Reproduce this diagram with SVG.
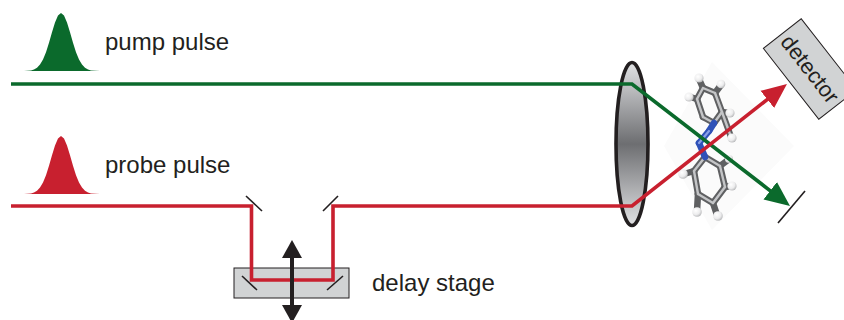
<svg xmlns="http://www.w3.org/2000/svg" width="844" height="320" viewBox="0 0 844 320">
  <style>
    .label { font-family: "Liberation Sans", Arial, Helvetica, sans-serif; font-size: 24px; fill: #231f20; }
    .pump { stroke: #0b6a2c; }
    .probe { stroke: #c8202f; }
    .beam { fill: none; stroke-width: 3.6; stroke-linejoin: miter; }
    .mirror { stroke: #231f20; stroke-width: 1.6; stroke-linecap: butt; }
    .bond { stroke: #5f6062; stroke-width: 6.5; stroke-linecap: round; }
    .bondhi { stroke: #c4c5c7; stroke-width: 2.4; stroke-linecap: round; }
    .nbond { stroke: #2f52b8; stroke-width: 6.5; stroke-linecap: round; }
    .nbondhi { stroke: #8aa0e6; stroke-width: 2.2; stroke-linecap: round; }
  </style>
  <defs>
    <path id="gauss" d="M24,71 L31,70.4 L34,69.5 L37,67.7 L40,64.6 L43,59.5 L46,52.2 L49,42.8 L52,32.3 L55,22.5 L58,15.6 L61,13 L64,15.6 L67,22.5 L70,32.3 L73,42.8 L76,52.2 L79,59.5 L82,64.6 L85,67.7 L88,69.5 L91,70.4 L100,71 Z"/>
    <linearGradient id="lensFill" x1="0" y1="0" x2="0" y2="1">
      <stop offset="0" stop-color="#e1e2e4"/>
      <stop offset="0.5" stop-color="#6d6e71"/>
      <stop offset="1" stop-color="#e1e2e4"/>
    </linearGradient>
    <radialGradient id="hAtom" cx="0.38" cy="0.35" r="0.7">
      <stop offset="0" stop-color="#ffffff"/>
      <stop offset="0.6" stop-color="#ececed"/>
      <stop offset="1" stop-color="#b3b4b6"/>
    </radialGradient>
    <marker id="headGreen" markerUnits="userSpaceOnUse" viewBox="0 -12 26 24" refX="1" refY="0" markerWidth="26" markerHeight="24" orient="auto">
      <path d="M0,-11 L25,0 L0,11 Z" fill="#0b6a2c"/>
    </marker>
    <marker id="headRed" markerUnits="userSpaceOnUse" viewBox="0 -12 26 24" refX="1" refY="0" markerWidth="26" markerHeight="24" orient="auto">
      <path d="M0,-11 L25,0 L0,11 Z" fill="#c8202f"/>
    </marker>
  </defs>

  <!-- pulse shapes and labels -->
  <g id="pump-pulse">
    <use href="#gauss" fill="#0b6a2c"/>
    <text class="label" x="105" y="50">pump pulse</text>
  </g>
  <g id="probe-pulse">
    <use href="#gauss" fill="#c8202f" transform="translate(0,123)"/>
    <text class="label" x="105" y="173">probe pulse</text>
  </g>

  <!-- delay stage -->
  <g id="delay-stage">
    <rect x="234" y="268" width="115" height="30" fill="#d1d3d4" stroke="#231f20" stroke-width="1"/>
    <text class="label" x="372" y="291">delay stage</text>
  </g>

  <!-- focusing lens -->
  <g id="lens">
    <ellipse cx="632" cy="144" rx="16" ry="81.5" fill="url(#lensFill)" stroke="#231f20" stroke-width="3.6"/>
  </g>

  <!-- sample: azobenzene molecule -->
  <g id="sample">
    <polygon points="712,62 794,146 712,230 664,146" fill="#fbfbfb"/>
    <g id="molecule">
      <!-- upper phenyl ring -->
      <g class="bond">
        <line x1="703" y1="88" x2="715" y2="93"/>
        <line x1="715" y1="93" x2="722" y2="112"/>
        <line x1="722" y1="112" x2="714" y2="123"/>
        <line x1="714" y1="123" x2="703" y2="117"/>
        <line x1="703" y1="117" x2="697" y2="99"/>
        <line x1="697" y1="99" x2="703" y2="88"/>
        <line x1="703" y1="88" x2="699" y2="79"/>
        <line x1="697" y1="99" x2="690" y2="97"/>
        <line x1="715" y1="93" x2="721" y2="85"/>
        <line x1="722" y1="112" x2="729" y2="113"/>
        <line x1="722" y1="112" x2="731" y2="137"/>
        <!-- lower phenyl ring -->
        <line x1="705" y1="157" x2="720" y2="166"/>
        <line x1="720" y1="166" x2="725" y2="187"/>
        <line x1="725" y1="187" x2="713" y2="203"/>
        <line x1="713" y1="203" x2="698" y2="194"/>
        <line x1="698" y1="194" x2="694" y2="171"/>
        <line x1="694" y1="171" x2="705" y2="157"/>
        <line x1="694" y1="171" x2="684" y2="174"/>
        <line x1="725" y1="187" x2="731" y2="186"/>
        <line x1="713" y1="203" x2="717" y2="215"/>
        <line x1="698" y1="194" x2="697" y2="211"/>
        <line x1="720" y1="166" x2="728" y2="160"/>
      </g>
      <g class="bondhi">
        <line x1="703" y1="88" x2="715" y2="93"/>
        <line x1="715" y1="93" x2="722" y2="112"/>
        <line x1="722" y1="112" x2="714" y2="123"/>
        <line x1="714" y1="123" x2="703" y2="117"/>
        <line x1="703" y1="117" x2="697" y2="99"/>
        <line x1="697" y1="99" x2="703" y2="88"/>
        <line x1="705" y1="157" x2="720" y2="166"/>
        <line x1="720" y1="166" x2="725" y2="187"/>
        <line x1="725" y1="187" x2="713" y2="203"/>
        <line x1="713" y1="203" x2="698" y2="194"/>
        <line x1="698" y1="194" x2="694" y2="171"/>
        <line x1="694" y1="171" x2="705" y2="157"/>
        <line x1="722" y1="112" x2="731" y2="137"/>
      </g>
      <!-- azo bridge -->
      <g class="nbond">
        <line x1="714" y1="123" x2="709" y2="131"/>
        <line x1="709" y1="131" x2="699" y2="143"/>
        <line x1="699" y1="143" x2="705" y2="157"/>
      </g>
      <g class="nbondhi">
        <line x1="709" y1="131" x2="699" y2="143"/>
      </g>
      <!-- hydrogen atoms -->
      <g fill="url(#hAtom)">
        <circle cx="699" cy="78" r="4.6"/>
        <circle cx="689" cy="97" r="4.6"/>
        <circle cx="721" cy="84" r="4.3"/>
        <circle cx="730" cy="113" r="4.6"/>
        <circle cx="732" cy="138" r="4.6"/>
        <circle cx="683" cy="174" r="4.8"/>
        <circle cx="732" cy="186" r="4.6"/>
        <circle cx="718" cy="216" r="4.8"/>
        <circle cx="697" cy="212" r="4.8"/>
        <circle cx="729" cy="159" r="4"/>
      </g>
    </g>
  </g>

  <!-- detector -->
  <g id="detector" transform="translate(810,69) rotate(52)">
    <rect x="-45" y="-24" width="90" height="48" fill="#d1d3d4" stroke="#231f20" stroke-width="1"/>
    <text class="label" x="0" y="0" text-anchor="middle" dominant-baseline="central" style="font-size:22px">detector</text>
  </g>

  <!-- beam paths -->
  <g id="connectors">
    <path class="beam pump" d="M11,84 H632 L771,191.3" marker-end="url(#headGreen)"/>
    <path class="beam probe" d="M11,206 H251.5 V280 H333 V206 H632 L768.1,98.8" marker-end="url(#headRed)"/>
  </g>

  <!-- mirrors -->
  <g id="mirrors">
    <line class="mirror" x1="246" y1="196" x2="262" y2="211"/>
    <line class="mirror" x1="323" y1="211" x2="338" y2="196"/>
    <line class="mirror" x1="242" y1="276" x2="257" y2="290"/>
    <line class="mirror" x1="327" y1="290" x2="343" y2="276"/>
    <line class="mirror" x1="778" y1="223" x2="805" y2="191"/>
  </g>

  <!-- stage travel arrow -->
  <g id="stage-arrow" fill="#231f20">
    <rect x="290" y="256" width="4" height="50"/>
    <polygon points="292,240 302,258 282,258"/>
    <polygon points="292,323 302,305 282,305"/>
  </g>
</svg>
